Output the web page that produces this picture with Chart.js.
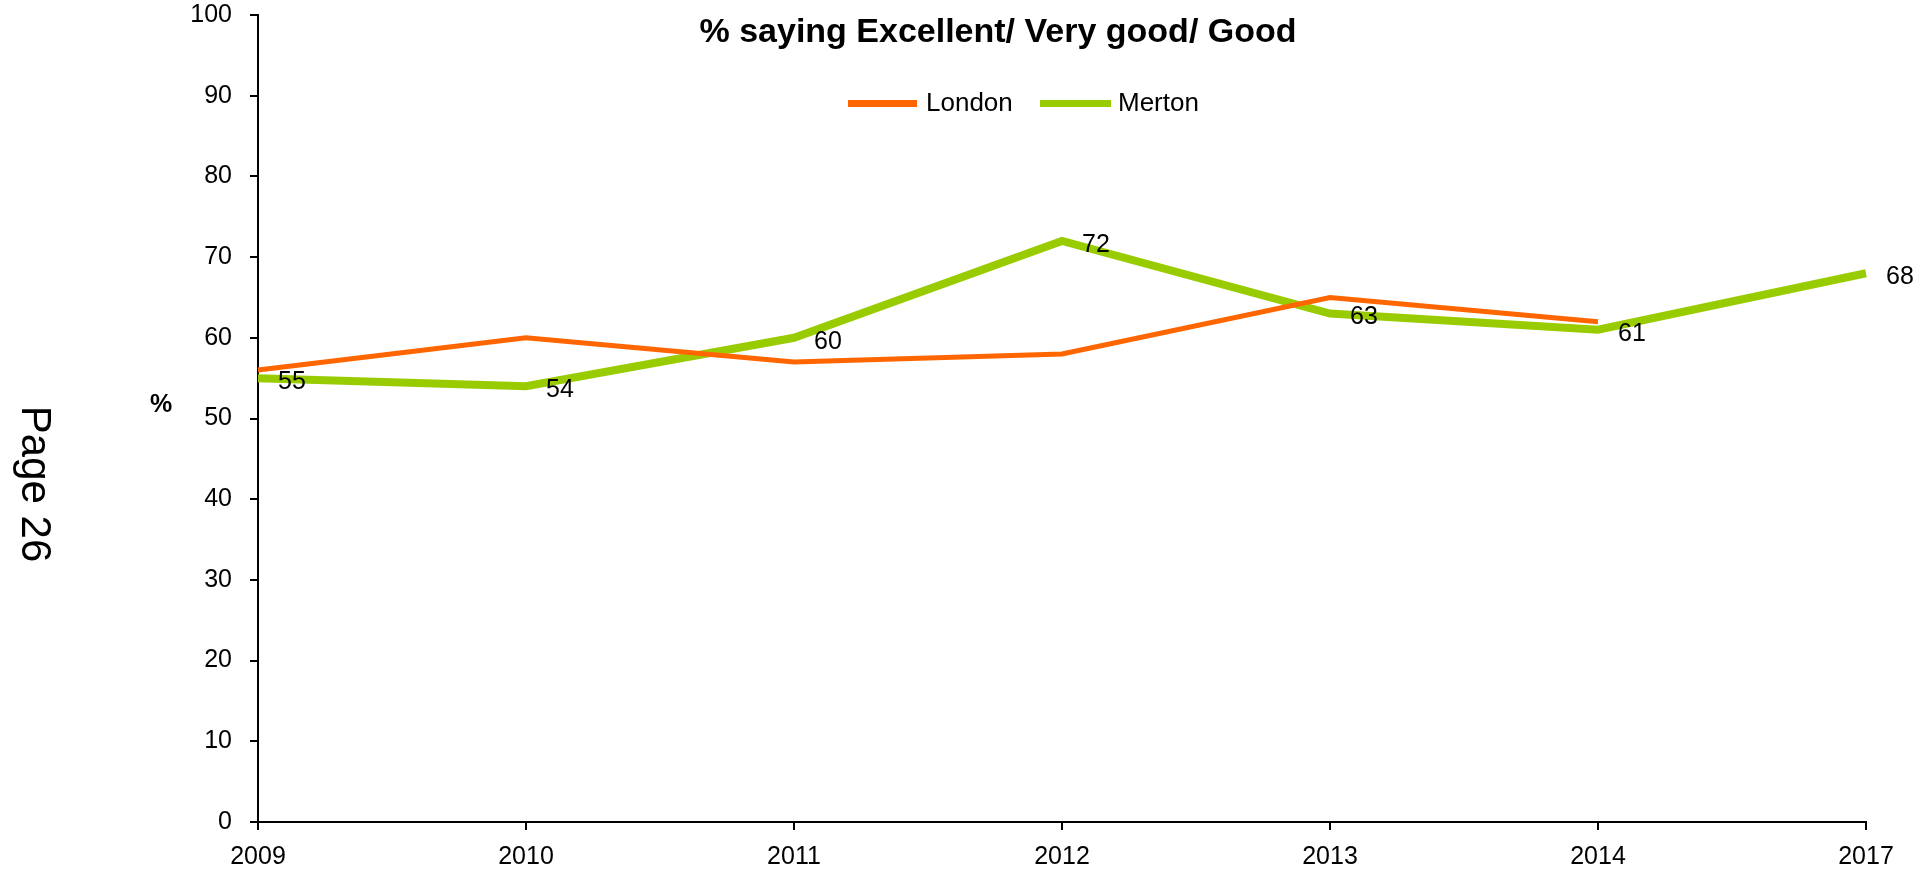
<!DOCTYPE html>
<html>
<head>
<meta charset="utf-8">
<title>% saying Excellent/ Very good/ Good</title>
<script src="https://cdn.jsdelivr.net/npm/chart.js@4/dist/chart.umd.min.js"></script>
<style>
  html, body { margin: 0; padding: 0; background: #fff; }
  #chart { display: block; }
</style>
</head>
<body>
<canvas id="chart" width="1930" height="877"></canvas>
<script>
// Survey years (x axis)
const years = ["2009", "2010", "2011", "2012", "2013", "2014", "2017"]

// % saying Excellent / Very good / Good
const londonValues = [56, 60, 57, 58, 65, 62, null]
const mertonValues = [55, 54, 60, 72, 63, 61, 68]

// y axis ticks
const yTicks = [0, 10, 20, 30, 40, 50, 60, 70, 80, 90, 100]

const chartTitle = "% saying Excellent/ Very good/ Good"
const yAxisLabel = "%"
const pageLabel = "Page 26"

const FONT = '"Liberation Sans", Arial, sans-serif'
const ORANGE = "#ff6600"
const GREEN = "#99cc00"

// Title, legend and side labels drawn where the original put them
const decorations = {
  id: "decorations",
  afterDraw(chart) {
    const ctx = chart.ctx
    ctx.save()
    ctx.fillStyle = "#000"

    // title
    ctx.font = "bold 34px " + FONT
    ctx.textAlign = "center"
    ctx.textBaseline = "alphabetic"
    ctx.fillText(chartTitle, 998, 42)

    // legend
    const legendItems = [
      { x: 848, w: 69, textX: 926 },
      { x: 1040, w: 71, textX: 1118 },
    ]
    ctx.font = "26px " + FONT
    ctx.textAlign = "left"
    chart.data.datasets.forEach((ds, i) => {
      const item = legendItems[i]
      ctx.fillStyle = ds.borderColor
      ctx.fillRect(item.x, 100, item.w, 7)
      ctx.fillStyle = "#000"
      ctx.fillText(ds.label, item.textX, 111)
    })

    // "%" axis label
    ctx.font = "bold 25px " + FONT
    ctx.textAlign = "center"
    ctx.textBaseline = "middle"
    ctx.fillText(yAxisLabel, 161, 405)

    // page number, rotated
    ctx.translate(22, 484)
    ctx.rotate(Math.PI / 2)
    ctx.font = "42px " + FONT
    ctx.textAlign = "center"
    ctx.textBaseline = "alphabetic"
    ctx.fillText(pageLabel, 0, 0)
    ctx.restore()
  },
}

// Value labels beside the Merton points
const pointLabels = {
  id: "pointLabels",
  afterDatasetsDraw(chart) {
    const ctx = chart.ctx
    const meta = chart.getDatasetMeta(1)
    ctx.save()
    ctx.font = "25px " + FONT
    ctx.fillStyle = "#000"
    ctx.textAlign = "left"
    ctx.textBaseline = "middle"
    meta.data.forEach((pt, i) => {
      const v = mertonValues[i]
      if (v === null) return
      ctx.fillText(String(v), pt.x + 20, pt.y + 4)
    })
    ctx.restore()
  },
}

new Chart(document.getElementById("chart"), {
  type: "line",
  data: {
    labels: years,
    datasets: [
      {
        label: "London",
        data: londonValues,
        borderColor: ORANGE,
        backgroundColor: ORANGE,
        borderWidth: 5,
        pointRadius: 0,
        tension: 0,
        spanGaps: false,
      },
      {
        label: "Merton",
        data: mertonValues,
        borderColor: GREEN,
        backgroundColor: GREEN,
        borderWidth: 8,
        pointRadius: 0,
        tension: 0,
      },
    ],
  },
  options: {
    responsive: false,
    devicePixelRatio: 1,
    animation: false,
    layout: {
      padding: { top: 15, right: 64, bottom: 0, left: 0 },
    },
    plugins: {
      legend: { display: false },
      title: { display: false },
      tooltip: { enabled: false },
    },
    scales: {
      x: {
        offset: false,
        afterFit(scale) {
          scale.height = 55
        },
        grid: {
          drawOnChartArea: false,
          drawTicks: true,
          tickLength: 8,
          color: "#000",
          lineWidth: 2,
        },
        border: { color: "#000", width: 2 },
        ticks: {
          color: "#000",
          font: { family: FONT, size: 25 },
          padding: 12,
          maxRotation: 0,
          autoSkip: false,
        },
      },
      y: {
        min: 0,
        max: 100,
        afterFit(scale) {
          scale.width = 258
          scale.paddingTop = 0
          scale.paddingBottom = 0
        },
        afterBuildTicks(scale) {
          scale.ticks = yTicks.map((v) => ({ value: v }))
        },
        grid: {
          drawOnChartArea: false,
          drawTicks: true,
          tickLength: 8,
          color: "#000",
          lineWidth: 2,
        },
        border: { color: "#000", width: 2 },
        ticks: {
          color: "#000",
          font: { family: FONT, size: 25 },
          padding: 18,
        },
      },
    },
  },
  plugins: [pointLabels, decorations],
})
</script>
</body>
</html>
